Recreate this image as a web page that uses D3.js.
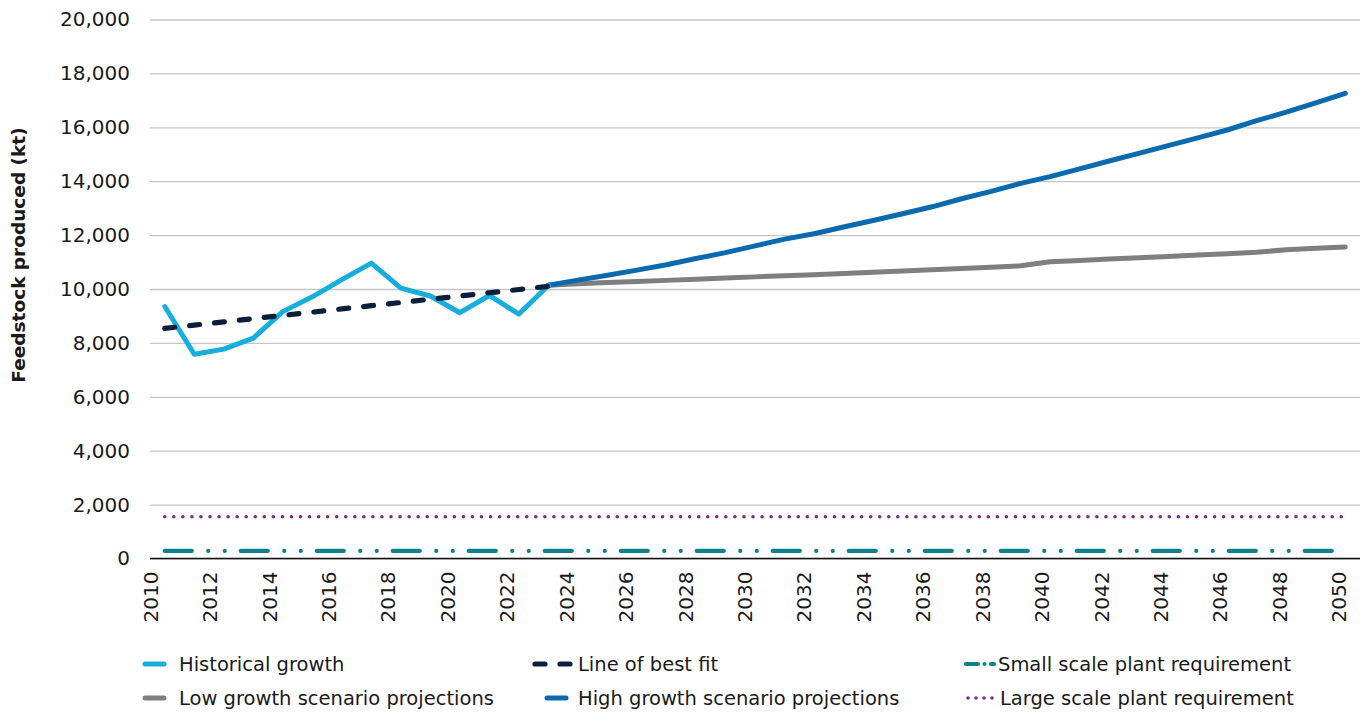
<!DOCTYPE html>
<html>
<head>
<meta charset="utf-8">
<script src="https://cdn.jsdelivr.net/npm/d3@7"></script>
<style>
  html, body { margin: 0; padding: 0; background: #ffffff; }
  svg text { font-family: "DejaVu Sans", sans-serif; fill: #1a1a1a; }
</style>
</head>
<body>
<svg id="chart" width="1370" height="714"></svg>
<script>
// ---------- DATA ----------
const years = [2010,2011,2012,2013,2014,2015,2016,2017,2018,2019,2020,2021,2022,2023,2024,2025,2026,2027,2028,2029,
               2030,2031,2032,2033,2034,2035,2036,2037,2038,2039,2040,2041,2042,2043,2044,2045,2046,2047,2048,2049,2050];
const yTicks = [0,2000,4000,6000,8000,10000,12000,14000,16000,18000,20000];
const xTickLabels = [2010,2012,2014,2016,2018,2020,2022,2024,2026,2028,2030,2032,2034,2036,2038,2040,2042,2044,2046,2048,2050];

const historicalYears = [2010,2011,2012,2013,2014,2015,2016,2017,2018,2019,2020,2021,2022,2023];
const historical      = [9350,7580,7770,8180,9160,9710,10350,10960,10030,9740,9120,9760,9070,10130];
const bestFit         = [8540,8660,8780,8900,9020,9140,9260,9380,9500,9620,9740,9860,9980,10100];

const projectionYears = [2023,2024,2025,2026,2027,2028,2029,2030,2031,2032,2033,2034,2035,2036,2037,2038,2039,
                         2040,2041,2042,2043,2044,2045,2046,2047,2048,2049,2050];
const lowGrowth  = [10140,10195,10240,10280,10320,10365,10405,10450,10490,10530,10575,10620,10665,10710,10760,10810,10860,
                    11010,11060,11110,11160,11210,11260,11310,11360,11460,11510,11560];
const highGrowth = [10140,10330,10510,10700,10900,11130,11350,11600,11850,12050,12300,12540,12790,13050,13350,13620,13920,
                    14170,14460,14750,15030,15320,15610,15900,16250,16560,16910,17260];

const smallScale = [280,280,280,280,280,280,280,280,280,280,280,280,280,280,280,280,280,280,280,280,
                    280,280,280,280,280,280,280,280,280,280,280,280,280,280,280,280,280,280,280,280,280];
const largeScale = [1550,1550,1550,1550,1550,1550,1550,1550,1550,1550,1550,1550,1550,1550,1550,1550,1550,1550,1550,1550,
                    1550,1550,1550,1550,1550,1550,1550,1550,1550,1550,1550,1550,1550,1550,1550,1550,1550,1550,1550,1550,1550];

const yTitle = "Feedstock produced (kt)";

// ---------- LAYOUT ----------
const svg = d3.select("#chart");
const plotLeft = 150, plotRight = 1360, plotTop = 19.5, plotBottom = 558.5;

const x = d3.scaleBand().domain(years).range([plotLeft, plotRight]);
const xc = yr => x(yr) + x.bandwidth() / 2;
const xLabel = d3.scaleLinear().domain([2010, 2050]).range([150, 1338.5]);
const y = d3.scaleLinear().domain([0, 20000]).range([plotBottom, plotTop]);

// gridlines
const grid = svg.append("g")
  .attr("transform", `translate(${plotLeft},0)`)
  .call(d3.axisLeft(y).tickValues(yTicks).tickSize(-(plotRight - plotLeft)).tickFormat(""));
grid.select(".domain").remove();
grid.selectAll(".tick line").attr("stroke", "#c6c6c6").attr("stroke-width", 1.3);

// y labels
const yAxis = svg.append("g")
  .attr("transform", `translate(${plotLeft},0)`)
  .call(d3.axisLeft(y).tickValues(yTicks).tickSize(0).tickPadding(20).tickFormat(d3.format(",")));
yAxis.select(".domain").remove();
yAxis.selectAll("text").style("font-size", "20px").style("font-family", "DejaVu Sans").attr("fill", "#1a1a1a");

// x axis baseline
svg.append("line")
  .attr("x1", plotLeft).attr("x2", plotRight)
  .attr("y1", y(0)).attr("y2", y(0))
  .attr("stroke", "#111").attr("stroke-width", 1.6);

// x labels
const xAxis = svg.append("g")
  .attr("transform", `translate(0,${plotBottom})`)
  .call(d3.axisBottom(xLabel).tickValues(xTickLabels).tickSize(0).tickFormat(d3.format("d")));
xAxis.select(".domain").remove();
xAxis.selectAll("text")
  .style("font-size", "20px").style("font-family", "DejaVu Sans").attr("fill", "#1a1a1a")
  .attr("text-anchor", "end")
  .attr("transform", "rotate(-90)")
  .attr("x", -13).attr("y", 0).attr("dy", "0.36em");

// y title
svg.append("text")
  .attr("transform", "translate(25,255) rotate(-90)")
  .attr("text-anchor", "middle")
  .style("font-size", "18.5px").style("font-weight", "bold")
  .text(yTitle);

// ---------- SERIES ----------
const line = d3.line().x(d => xc(d[0])).y(d => y(d[1]));

function drawSeries(xs, vals, color, width, dash, cap) {
  svg.append("path")
    .datum(xs.map((yr, i) => [yr, vals[i]]))
    .attr("d", line)
    .attr("fill", "none")
    .attr("stroke", color)
    .attr("stroke-width", width)
    .attr("stroke-linejoin", "round")
    .attr("stroke-linecap", cap || "round")
    .attr("stroke-dasharray", dash || null);
}

const C = {
  historical: "#16afdd",
  bestFit: "#0b1f3b",
  low: "#7f7f7f",
  high: "#0a6aad",
  small: "#0d8088",
  large: "#7a2a8b"
};

drawSeries(years, largeScale, C.large, 3.6, "0,9.05");
drawSeries(years, smallScale, C.small, 4.2, "27,16.5,0,16.5,0,16");
drawSeries(projectionYears, lowGrowth, C.low, 5);
drawSeries(projectionYears, highGrowth, C.high, 5);
drawSeries(historicalYears, historical, C.historical, 5);
drawSeries(historicalYears, bestFit, C.bestFit, 5.2, "10,15");

// ---------- LEGEND ----------
const legendItems = [
  { name: "Historical growth", color: C.historical, width: 5, dash: null, x1: 145, x2: 164, tx: 179, ty: 664 },
  { name: "Line of best fit", color: C.bestFit, width: 5.2, dash: "10,15", x1: 535, x2: 570, tx: 578, ty: 664 },
  { name: "Small scale plant requirement", color: C.small, width: 4.2, dash: "12,6.5,0,6.5", x1: 966, x2: 994, tx: 998, ty: 664 },
  { name: "Low growth scenario projections", color: C.low, width: 5, dash: null, x1: 145, x2: 164, tx: 179, ty: 698 },
  { name: "High growth scenario projections", color: C.high, width: 5, dash: null, x1: 547, x2: 566, tx: 578, ty: 698 },
  { name: "Large scale plant requirement", color: C.large, width: 3.6, dash: "0,8", x1: 968, x2: 993, tx: 1000, ty: 698 }
];

const lg = svg.append("g");
legendItems.forEach(it => {
  lg.append("line")
    .attr("x1", it.x1).attr("x2", it.x2).attr("y1", it.ty).attr("y2", it.ty)
    .attr("stroke", it.color).attr("stroke-width", it.width)
    .attr("stroke-linecap", "round")
    .attr("stroke-dasharray", it.dash);
  lg.append("text")
    .attr("x", it.tx).attr("y", it.ty).attr("dy", "0.36em")
    .style("font-size", "19.5px")
    .text(it.name);
});
</script>
</body>
</html>
